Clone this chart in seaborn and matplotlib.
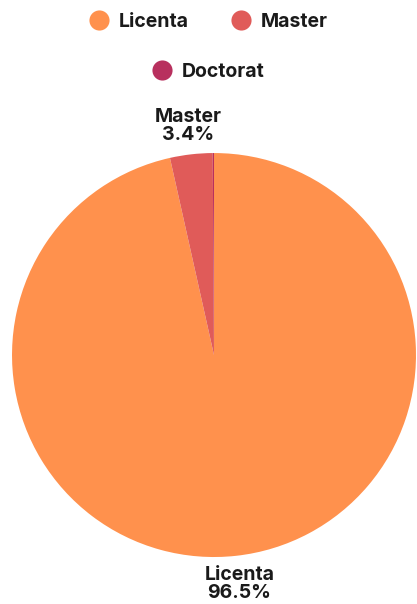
import matplotlib.pyplot as plt
import seaborn as sns
from matplotlib.lines import Line2D

# Data
categories = ['Licenta', 'Master', 'Doctorat']
shares = [96.5, 3.4, 0.1]
colors = ['#FF914D', '#E05B59', '#B8305E']
shown_labels = ['Licenta', 'Master']

sns.set_theme(style="white")
plt.rcParams['font.family'] = ['Inter', 'DejaVu Sans']

fig = plt.figure(figsize=(4.17, 6.04), dpi=100)
ax = fig.add_axes([-0.0681, 0.0109, 1.1626, 0.8026])

wedges, texts = ax.pie(shares, colors=colors, startangle=90, counterclock=False,
                       labels=[c if c in shown_labels else '' for c in categories],
                       labeldistance=1.14, wedgeprops=dict(linewidth=0))
ax.set_xlim(-1.2, 1.2)
ax.set_ylim(-1.2, 1.2)
ax.set_aspect('equal')

for t, cat, val in zip(texts, categories, shares):
    if cat in shown_labels:
        t.set_text(f'{cat}\n{val:.1f}%')
        t.set_horizontalalignment('center')
        t.set_verticalalignment('center')
        t.set_fontsize(14)
        t.set_fontweight('bold')
        t.set_color('#1a1a1a')
        t.set_linespacing(1.02)

# Legend: two items on the first row, one centred on the second
def handle(c):
    return Line2D([], [], marker='o', linestyle='', markersize=14.5,
                  markerfacecolor=c, markeredgewidth=0)

legend_kw = dict(frameon=False, handlelength=1.0, handletextpad=0.55,
                 columnspacing=2.15, borderpad=0,
                 prop=dict(size=14, weight='bold'))
leg1 = fig.legend([handle(c) for c in colors[:2]], categories[:2], ncol=2,
                  loc='center', bbox_to_anchor=(0.5, 1 - 22 / 604), **legend_kw)
leg2 = fig.legend([handle(colors[2])], categories[2:], ncol=1,
                  loc='center', bbox_to_anchor=(0.5, 1 - 72 / 604), **legend_kw)
for leg in (leg1, leg2):
    for t in leg.get_texts():
        t.set_color('#1a1a1a')

fig.savefig('out.png', dpi=100)
